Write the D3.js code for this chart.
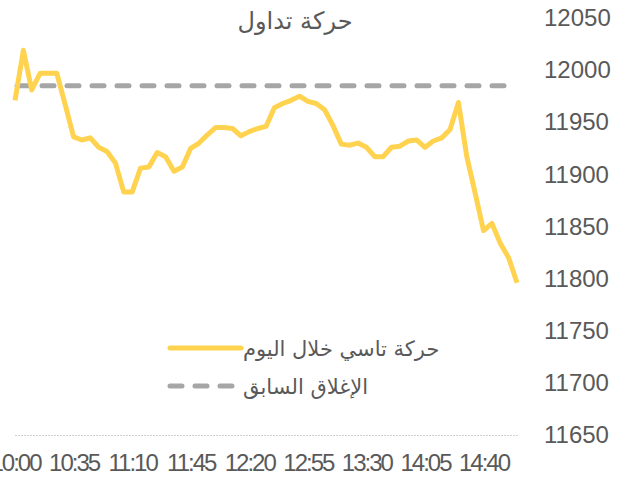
<!DOCTYPE html>
<html>
<head>
<meta charset="utf-8">
<script src="https://cdn.jsdelivr.net/npm/d3@7"></script>
<style>
  body { margin: 0; background: #fff; }
  text { font-family: "Liberation Sans", Arial, sans-serif; fill: #595959; }
</style>
</head>
<body>
<div class="container"></div>
<script>
// times every 5 minutes, 10:00 -> 15:00
var times = [];
for (var m = 600; m <= 900; m += 5) {
  times.push(Math.floor(m / 60) + ":" + String(m % 60).padStart(2, "0"));
}

var tasiValues = [
  11971, 12019, 11981, 11997, 11997, 11997, 11967, 11936, 11933, 11935,
  11926, 11922, 11911, 11883, 11883, 11906, 11907, 11921, 11917, 11903,
  11907, 11925, 11930, 11938, 11945, 11945, 11944, 11937, 11941, 11944,
  11946, 11964, 11968, 11971, 11975, 11970, 11968, 11962, 11947, 11929,
  11928, 11930, 11926, 11917, 11917, 11926, 11927, 11932, 11933, 11926,
  11932, 11935, 11943, 11969, 11917, 11882, 11846, 11853, 11834, 11820,
  11796
];

var previousClose = 11985;

var xTicks = ["10:00", "10:35", "11:10", "11:45", "12:20", "12:55", "13:30", "14:05", "14:40"];
var yTicks = [11650, 11700, 11750, 11800, 11850, 11900, 11950, 12000, 12050];

var title = "حركة تداول";
var legendNames = ["حركة تاسي خلال اليوم", "الإغلاق السابق"];

var width = 629;
var height = 479;

var svg = d3
  .select(".container")
  .append("svg")
  .attr("width", width)
  .attr("height", height);

var x = d3.scalePoint().domain(times).range([15, 517]);
var y = d3.scaleLinear().domain([11650, 12050]).range([435, 18]);

// title
svg
  .append("text")
  .attr("x", 295)
  .attr("y", 29)
  .attr("text-anchor", "middle")
  .style("font-family", "DejaVu Sans, sans-serif")
  .style("font-size", "24px")
  .text(title);

// baseline
svg
  .append("line")
  .attr("x1", 15)
  .attr("x2", 518)
  .attr("y1", y(11650) + 0.5)
  .attr("y2", y(11650) + 0.5)
  .attr("stroke", "#d0d0d0")
  .attr("stroke-dasharray", "2,1")
  .attr("stroke-width", 1);

// x axis
var xAxis = svg
  .append("g")
  .attr("transform", `translate(0,${y(11650)})`)
  .call(d3.axisBottom(x).tickValues(xTicks).tickSize(0).tickPadding(19));
xAxis.select(".domain").remove();
xAxis
  .selectAll("text")
  .style("font-size", "24px")
  .style("letter-spacing", "-2px")
  .style("fill", "#595959");

// y axis
var yAxis = svg
  .append("g")
  .attr("transform", "translate(544,0)")
  .call(d3.axisRight(y).tickValues(yTicks).tickSize(0).tickPadding(0).tickFormat(d3.format("d")));
yAxis.select(".domain").remove();
yAxis
  .selectAll("text")
  .style("font-size", "24px")
  .style("fill", "#595959");

// previous close
svg
  .append("line")
  .attr("x1", 17)
  .attr("x2", 516)
  .attr("y1", y(previousClose))
  .attr("y2", y(previousClose))
  .attr("stroke", "#a6a6a6")
  .attr("stroke-width", 5)
  .attr("stroke-linecap", "round")
  .attr("stroke-dasharray", "12,13");

// intraday line
var line = d3
  .line()
  .x(function (d, i) {
    return x(times[i]);
  })
  .y(function (d) {
    return y(d);
  });

svg
  .append("path")
  .datum(tasiValues)
  .attr("fill", "none")
  .attr("stroke", "#ffd34f")
  .attr("stroke-width", 5)
  .attr("stroke-linejoin", "round")
  .attr("d", line);

// legend
var legend = svg.append("g");

legend
  .append("line")
  .attr("x1", 170)
  .attr("x2", 241)
  .attr("y1", 348)
  .attr("y2", 348)
  .attr("stroke", "#ffd34f")
  .attr("stroke-width", 5)
  .attr("stroke-linecap", "round");

legend
  .append("line")
  .attr("x1", 170)
  .attr("x2", 234)
  .attr("y1", 386)
  .attr("y2", 386)
  .attr("stroke", "#a6a6a6")
  .attr("stroke-width", 5)
  .attr("stroke-linecap", "round")
  .attr("stroke-dasharray", "12,13");

legend
  .selectAll("text.legend")
  .data(legendNames)
  .enter()
  .append("text")
  .attr("class", "legend")
  .attr("x", 243)
  .attr("y", function (d, i) {
    return 356 + i * 38;
  })
  .attr("text-anchor", "start")
  .style("font-family", "DejaVu Sans, sans-serif")
  .style("font-size", "21px")
  .text(function (d) {
    return d;
  });
</script>
</body>
</html>
